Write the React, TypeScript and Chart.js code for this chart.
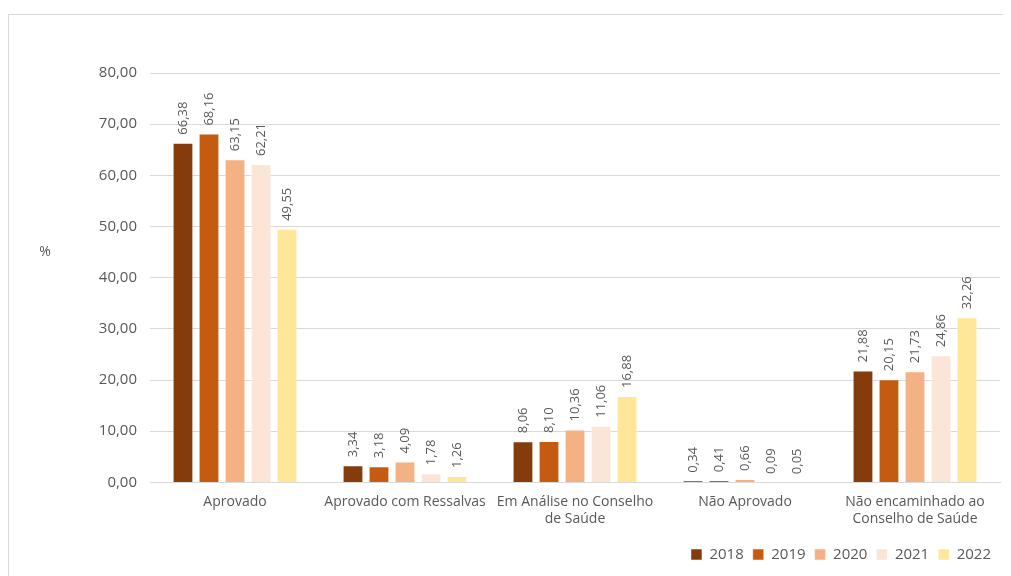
import React, { useEffect, useRef } from "react";
import { Chart, registerables } from "chart.js";

Chart.register(...registerables);

const categories: (string | string[])[] = [
  "Aprovado",
  "Aprovado com Ressalvas",
  ["Em Análise no Conselho", "de Saúde"],
  "Não Aprovado",
  ["Não encaminhado ao", "Conselho de Saúde"],
];

const years = ["2018", "2019", "2020", "2021", "2022"];
const values2018 = [66.38, 3.34, 8.06, 0.34, 21.88];
const values2019 = [68.16, 3.18, 8.1, 0.41, 20.15];
const values2020 = [63.15, 4.09, 10.36, 0.66, 21.73];
const values2021 = [62.21, 1.78, 11.06, 0.09, 24.86];
const values2022 = [49.55, 1.26, 16.88, 0.05, 32.26];
const seriesValues = [values2018, values2019, values2020, values2021, values2022];
const colors = ["#843C0C", "#C55A11", "#F4B183", "#FBE5D6", "#FFE699"];

const yTitle = "%";
const FONT = "'Open Sans', sans-serif";
const GRAY = "#595959";

const fmt = (v: number) => v.toFixed(2).replace(".", ",");

const labelPlugin = {
  id: "barLabels",
  afterDatasetsDraw(chart: any) {
    const ctx = chart.ctx;
    ctx.save();
    ctx.font = `13px ${FONT}`;
    ctx.fillStyle = GRAY;
    ctx.textAlign = "left";
    ctx.textBaseline = "middle";
    chart.data.datasets.forEach((ds: any, i: number) => {
      const meta = chart.getDatasetMeta(i);
      meta.data.forEach((bar: any, j: number) => {
        const v = ds.data[j];
        ctx.save();
        ctx.translate(bar.x, bar.y - 8);
        ctx.rotate(-Math.PI / 2);
        ctx.fillText(fmt(v), 0, 0);
        ctx.restore();
      });
    });
    // y axis title (upright)
    ctx.font = `14px ${FONT}`;
    ctx.textAlign = "center";
    ctx.fillText(yTitle, 36, 237);
    ctx.restore();
  },
};

export default function App() {
  const ref = useRef<HTMLCanvasElement>(null);
  useEffect(() => {
    if (!ref.current) return;
    const chart = new Chart(ref.current, {
      type: "bar",
      data: {
        labels: categories,
        datasets: years.map((y, i) => ({
          label: y,
          data: seriesValues[i],
          backgroundColor: colors[i],
          borderColor: "rgba(255,255,255,0.5)",
          borderWidth: 1,
          categoryPercentage: 0.765,
          barPercentage: 0.8,
        })),
      },
      options: {
        responsive: false,
        animation: false,
        layout: { padding: { top: 58, right: 11, left: 0, bottom: 4 } },
        plugins: {
          tooltip: { enabled: false },
          legend: {
            position: "bottom",
            align: "end",
            labels: {
              boxWidth: 11,
              boxHeight: 11,
              padding: 9,
              color: GRAY,
              font: { family: FONT, size: 15 },
            },
          },
        },
        scales: {
          x: {
            grid: { display: false, drawTicks: false },
            border: { color: "#d9d9d9", width: 1 },
            ticks: {
              color: GRAY,
              font: { family: FONT, size: 14 },
              padding: 11,
              maxRotation: 0,
              autoSkip: false,
            },
          },
          y: {
            min: 0,
            max: 80,
            afterFit: (s: any) => {
              s.width = 141;
            },
            grid: { color: "#d9d9d9", drawTicks: false },
            border: { display: false },
            ticks: {
              stepSize: 10,
              color: GRAY,
              padding: 13,
              font: { family: FONT, size: 15 },
              callback: (v: any) => fmt(Number(v)),
            },
          },
        },
      },
      plugins: [labelPlugin],
    });
    return () => chart.destroy();
  }, []);
  return (
    <div
      style={{
        marginTop: 6,
        width: 1003,
        height: 562,
        borderTop: "1px solid #d9d9d9",
        borderLeft: "1px solid #d9d9d9",
        boxSizing: "border-box",
        overflow: "hidden",
      }}
    >
      <canvas ref={ref} width={1002} height={561} style={{ display: "block" }} />
    </div>
  );
}
